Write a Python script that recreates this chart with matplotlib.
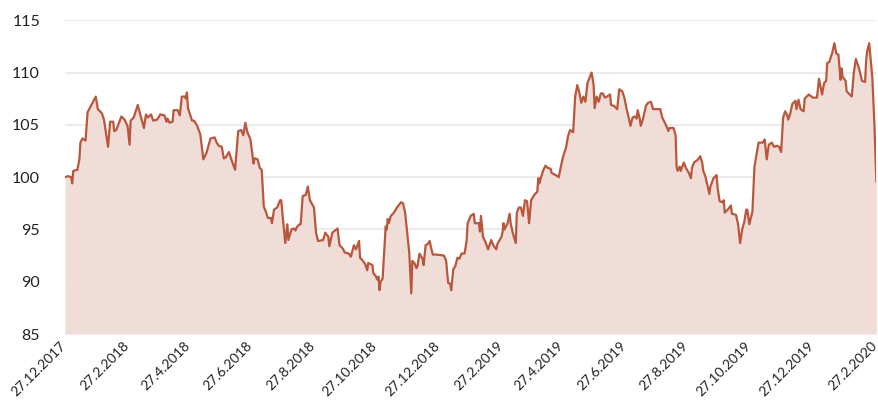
import numpy as np
import pandas as pd
import matplotlib
matplotlib.use("Agg")
import matplotlib.pyplot as plt
import matplotlib.dates as mdates
import matplotlib.transforms as mtransforms

plt.rcParams['font.family'] = ['Lato', 'DejaVu Sans']

# Index, Startwert 100 am 27.12.2017 (Tage seit Start, Wert)
start = pd.Timestamp("2017-12-27")
tage = [0, 3, 6, 7, 8, 12, 14, 15, 17, 20, 22, 30, 32, 34, 36, 38, 42, 44, 47, 48,
        50, 55, 58, 61, 63, 64, 67, 71, 72, 77, 79, 81, 84, 86, 90, 93, 97, 99, 100, 102,
        105, 106, 110, 112, 114, 117, 118, 119, 120, 124, 126, 129, 132, 134, 135, 138, 142, 146, 148, 150,
        153, 155, 157, 160, 162, 166, 169, 172, 174, 176, 178, 181, 184, 185, 188, 190, 192, 194, 196, 198,
        201, 202, 204, 207, 210, 211, 215, 217, 218, 221, 223, 225, 226, 229, 230, 232, 235, 237, 239, 243,
        245, 247, 252, 254, 257, 258, 261, 266, 268, 271, 273, 277, 279, 282, 284, 287, 288, 290, 293, 295,
        296, 300, 301, 303, 305, 306, 307, 308, 310, 313, 314, 315, 316, 318, 321, 324, 328, 330, 332, 334,
        336, 338, 339, 341, 343, 344, 346, 349, 350, 352, 354, 356, 357, 359, 363, 370, 372, 374, 376, 377,
        379, 381, 383, 385, 387, 390, 392, 393, 396, 399, 400, 404, 405, 406, 408, 410, 413, 416, 418, 421,
        422, 426, 427, 428, 429, 432, 434, 435, 437, 440, 441, 443, 445, 447, 449, 451, 453, 455, 458, 461,
        462, 463, 465, 467, 469, 471, 474, 475, 479, 482, 484, 486, 489, 491, 493, 496, 498, 500, 502, 504,
        506, 508, 510, 514, 516, 517, 519, 521, 523, 525, 527, 529, 532, 533, 536, 539, 541, 544, 546, 548,
        550, 552, 554, 556, 558, 559, 561, 562, 564, 567, 569, 572, 574, 576, 581, 583, 586, 587, 589, 590,
        594, 596, 597, 598, 600, 601, 604, 606, 609, 611, 612, 614, 618, 620, 622, 623, 625, 629, 630, 633,
        635, 636, 637, 639, 642, 643, 644, 647, 650, 651, 655, 657, 659, 661, 663, 665, 666, 668, 671, 673,
        677, 681, 683, 685, 687, 690, 692, 695, 697, 699, 701, 703, 705, 706, 708, 710, 713, 714, 716, 718,
        721, 722, 726, 730, 734, 736, 739, 741, 743, 744, 746, 749, 751, 753, 755, 757, 758, 759, 762, 763,
        766, 768, 770, 772, 775, 776, 778, 781, 782, 783, 785, 788, 790, 792]
werte = [100.0, 100.1, 100.0, 99.4, 100.6, 100.7, 101.7, 103.3, 103.7, 103.5, 106.2, 107.7, 106.5, 106.3, 106.1, 105.5, 102.9, 105.3, 105.3, 104.4,
         104.5, 105.8, 105.5, 104.9, 103.1, 105.4, 105.7, 106.9, 106.5, 104.7, 106.0, 105.7, 106.0, 105.4, 105.5, 106.0, 105.9, 105.3, 105.6, 105.2,
         105.3, 106.4, 106.4, 105.9, 107.7, 107.7, 107.5, 108.1, 106.6, 105.4, 105.4, 104.9, 104.1, 102.5, 101.7, 102.3, 103.7, 103.8, 103.3, 103.0,
         102.9, 101.8, 101.9, 102.4, 101.8, 100.7, 104.4, 104.5, 104.0, 105.2, 104.3, 103.6, 101.3, 101.8, 101.7, 100.9, 100.7, 97.2, 96.7, 96.1,
         96.1, 95.6, 96.9, 97.1, 97.8, 97.8, 93.7, 95.5, 94.0, 95.0, 95.1, 94.9, 95.2, 95.5, 95.5, 98.2, 98.3, 99.1, 97.8, 97.1,
         94.7, 93.9, 94.0, 94.7, 94.3, 93.4, 94.7, 95.1, 93.5, 93.2, 92.8, 92.7, 92.4, 93.5, 93.1, 93.9, 92.3, 92.1, 91.7, 91.1,
         91.8, 91.6, 90.8, 90.6, 90.2, 90.5, 89.2, 90.0, 90.3, 95.3, 95.0, 96.0, 95.6, 96.3, 96.6, 97.1, 97.6, 97.5, 96.6, 94.7,
         92.8, 88.9, 92.0, 91.8, 91.3, 91.5, 92.7, 92.2, 91.6, 93.5, 93.6, 93.9, 93.4, 92.6, 92.6, 92.5, 92.0, 89.9, 89.8, 89.2,
         91.2, 91.5, 92.3, 92.2, 92.7, 92.7, 93.9, 95.6, 96.3, 96.5, 95.6, 95.6, 94.8, 96.3, 94.3, 93.9, 93.1, 94.0, 93.5, 93.1,
         93.6, 94.3, 94.7, 95.6, 95.0, 95.6, 96.5, 95.6, 94.7, 93.7, 96.6, 97.1, 97.1, 96.3, 97.8, 97.7, 95.6, 97.8, 98.3, 98.6,
         99.9, 99.4, 100.1, 100.7, 101.1, 100.9, 100.8, 100.4, 100.2, 100.0, 101.0, 101.9, 102.8, 103.9, 104.5, 104.3, 107.7, 108.8, 108.1, 107.1,
         107.7, 107.2, 109.0, 110.0, 108.8, 106.6, 107.7, 107.2, 108.0, 108.0, 107.6, 107.7, 107.9, 106.9, 106.8, 106.5, 108.4, 108.2, 107.6, 106.6,
         105.8, 104.9, 105.7, 105.8, 105.6, 106.4, 105.6, 104.9, 105.5, 106.8, 107.1, 107.2, 106.5, 106.5, 106.5, 105.7, 105.1, 104.9, 104.4, 104.7,
         104.7, 104.0, 101.0, 100.6, 101.0, 100.6, 101.4, 100.9, 100.4, 99.9, 100.9, 101.4, 101.7, 102.0, 101.4, 100.6, 100.1, 98.4, 99.1, 99.9,
         100.1, 100.2, 99.0, 97.7, 97.6, 97.8, 96.6, 96.9, 97.3, 96.5, 96.4, 95.5, 93.7, 95.0, 95.7, 96.9, 96.9, 95.5, 96.7, 101.0,
         103.3, 103.3, 103.6, 101.7, 103.1, 103.3, 102.9, 103.0, 102.9, 102.4, 105.7, 106.3, 105.9, 105.5, 106.1, 107.0, 107.3, 106.5, 107.4, 106.5,
         106.3, 107.5, 107.9, 107.6, 107.6, 109.4, 107.9, 109.0, 109.2, 110.9, 111.0, 111.9, 112.8, 111.8, 111.7, 109.3, 110.4, 109.6, 109.2, 108.2,
         107.9, 107.7, 110.0, 111.3, 110.4, 110.0, 109.2, 109.1, 111.1, 112.0, 112.8, 109.6, 105.3, 99.6]

tick_labels = ["27.12.2017", "27.2.2018", "27.4.2018", "27.6.2018", "27.8.2018", "27.10.2018", "27.12.2018",
               "27.2.2019", "27.4.2019", "27.6.2019", "27.8.2019", "27.10.2019", "27.12.2019", "27.2.2020"]
y_ticks = [85, 90, 95, 100, 105, 110, 115]

datum = start + pd.to_timedelta(tage, unit="D")
tick_dates = pd.to_datetime(tick_labels, format="%d.%m.%Y")

linie = "#b9573d"
flaeche = "#f1ddd8"

fig = plt.figure(figsize=(8.79, 4.12), dpi=100)
ax = fig.add_axes([0.074, 0.189, 0.923, 0.762])

ax.fill_between(datum, werte, 85, color=flaeche, linewidth=0, zorder=2)
ax.plot(datum, werte, color=linie, linewidth=1.6, zorder=3)

ax.set_ylim(85, 115)
ax.set_yticks(y_ticks)
ax.set_xlim(datum[0], datum[-1])
ax.set_xticks(tick_dates)
ax.set_xticklabels(tick_labels)

ax.grid(axis="y", color="#ebebeb", linewidth=1.5, zorder=1)
ax.grid(axis="x", visible=False)
for s in ax.spines.values():
    s.set_visible(False)

ax.tick_params(axis="y", length=0, pad=18, labelsize=11.5, labelcolor="#222222")
ax.tick_params(axis="x", length=0, pad=4, labelsize=10, labelcolor="#222222")
offset = mtransforms.ScaledTranslation(2 / 72, 0, fig.dpi_scale_trans)
for lab in ax.get_xticklabels():
    lab.set_rotation(45)
    lab.set_ha("right")
    lab.set_transform(lab.get_transform() + offset)

fig.savefig("out.png", dpi=100)
